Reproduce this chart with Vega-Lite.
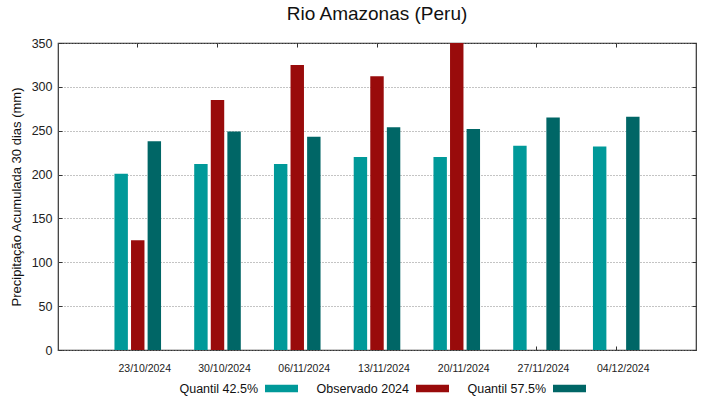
{
  "$schema": "https://vega.github.io/schema/vega-lite/v6.json",
  "width": 638,
  "height": 307,
  "autosize": {"type": "none"},
  "padding": {"left": 58, "top": 43, "right": 23, "bottom": 49},
  "background": "white",
  "title": {
    "text": "Rio Amazonas (Peru)",
    "font": "Liberation Sans",
    "fontSize": 19,
    "fontWeight": "normal",
    "color": "#111",
    "anchor": "middle",
    "offset": 10
  },
  "data": {
    "values": [
      {"data": "23/10/2024", "serie": "Quantil 42.5%", "valor": 201},
      {"data": "23/10/2024", "serie": "Observado 2024", "valor": 125},
      {"data": "23/10/2024", "serie": "Quantil 57.5%", "valor": 238},
      {"data": "30/10/2024", "serie": "Quantil 42.5%", "valor": 212},
      {"data": "30/10/2024", "serie": "Observado 2024", "valor": 285},
      {"data": "30/10/2024", "serie": "Quantil 57.5%", "valor": 249},
      {"data": "06/11/2024", "serie": "Quantil 42.5%", "valor": 212},
      {"data": "06/11/2024", "serie": "Observado 2024", "valor": 325},
      {"data": "06/11/2024", "serie": "Quantil 57.5%", "valor": 243},
      {"data": "13/11/2024", "serie": "Quantil 42.5%", "valor": 220},
      {"data": "13/11/2024", "serie": "Observado 2024", "valor": 312},
      {"data": "13/11/2024", "serie": "Quantil 57.5%", "valor": 254},
      {"data": "20/11/2024", "serie": "Quantil 42.5%", "valor": 220},
      {"data": "20/11/2024", "serie": "Observado 2024", "valor": 360},
      {"data": "20/11/2024", "serie": "Quantil 57.5%", "valor": 252},
      {"data": "27/11/2024", "serie": "Quantil 42.5%", "valor": 233},
      {"data": "27/11/2024", "serie": "Quantil 57.5%", "valor": 265},
      {"data": "04/12/2024", "serie": "Quantil 42.5%", "valor": 232},
      {"data": "04/12/2024", "serie": "Quantil 57.5%", "valor": 266}
    ]
  },
  "layer": [
    {
      "mark": {"type": "bar", "clip": true},
      "encoding": {
        "x": {
          "field": "data", "type": "nominal", "sort": null,
          "scale": {"paddingInner": 0, "paddingOuter": 0.5},
          "axis": {
            "orient": "bottom", "title": null, "labelAngle": 0,
            "tickSize": -4, "labelPadding": 17, "labelOffset": 7, "domain": false, "grid": false,
            "labelFont": "Liberation Sans", "labelFontSize": 10.5, "labelColor": "#222", "tickColor": "#333"
          }
        },
        "xOffset": {
          "field": "serie", "type": "nominal",
          "sort": ["Quantil 42.5%", "Observado 2024", "Quantil 57.5%"],
          "scale": {"paddingInner": 0.19, "paddingOuter": 1.095}
        },
        "y": {
          "field": "valor", "type": "quantitative",
          "scale": {"domain": [0, 350], "nice": false},
          "axis": {
            "orient": "left", "values": [0, 50, 100, 150, 200, 250, 300, 350],
            "title": "Precipitação Acumulada 30 dias (mm)",
            "titleFont": "Liberation Sans", "titleFontSize": 13, "titleFontWeight": "normal", "titleColor": "#111",
            "titlePadding": 8,
            "tickSize": -4, "labelPadding": 10, "domain": false,
            "labelFont": "Liberation Sans", "labelFontSize": 12.5, "labelColor": "#222", "tickColor": "#333",
            "grid": true, "gridDash": [1, 2], "gridColor": "#888", "gridWidth": 1
          }
        },
        "color": {
          "field": "serie", "type": "nominal",
          "sort": ["Quantil 42.5%", "Observado 2024", "Quantil 57.5%"],
          "scale": {"domain": ["Quantil 42.5%", "Observado 2024", "Quantil 57.5%"], "range": ["#009999", "#990b0b", "#006666"]},
          "legend": {
            "title": null, "orient": "none", "direction": "horizontal",
            "legendX": 207, "legendY": 329,
            "symbolType": "M-1,-0.22H1V0.22H-1Z", "symbolSize": 1089, "symbolStrokeWidth": 0,
            "labelAlign": "right", "labelOffset": -40,
            "labelFont": "Liberation Sans", "labelFontSize": 12.5, "labelColor": "#111",
            "columnPadding": 18
          }
        }
      }
    },
    {
      "mark": {"type": "bar", "opacity": 0},
      "encoding": {
        "x": {
          "field": "data", "type": "nominal", "sort": null,
          "axis": {"orient": "top", "title": null, "labels": false, "tickSize": -4, "domain": false, "grid": false, "tickColor": "#333"}
        },
        "xOffset": {"field": "serie", "type": "nominal", "sort": ["Quantil 42.5%", "Observado 2024", "Quantil 57.5%"]},
        "y": {
          "field": "valor", "type": "quantitative",
          "axis": {"orient": "right", "title": null, "labels": false, "tickSize": -4, "domain": false, "grid": false, "tickColor": "#333", "values": [0, 50, 100, 150, 200, 250, 300, 350]}
        }
      }
    }
  ],
  "resolve": {"axis": {"x": "independent", "y": "independent"}},
  "config": {
    "view": {"stroke": "#333", "strokeWidth": 1.2},
    "font": "Liberation Sans"
  }
}
